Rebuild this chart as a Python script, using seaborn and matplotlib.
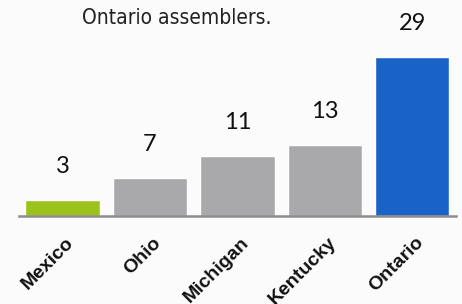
#Bar chart: assemblers by location

#import libraries
import numpy as np
import pandas as pd
import matplotlib
matplotlib.use('Agg')
import matplotlib.pyplot as plt
import matplotlib.transforms as mtrans
from matplotlib import font_manager
import seaborn as sns

#data
locations = ['Mexico', 'Ohio', 'Michigan', 'Kentucky', 'Ontario']
counts = [3, 7, 11, 13, 29]
bar_colors = ['#9cc31c', '#a9a9ab', '#a9a9ab', '#a9a9ab', '#1a63c6']
caption = 'Ontario assemblers.'

df = pd.DataFrame({'location': locations, 'count': counts})

sns.set_style('white')
plt.rcParams['font.family'] = ['Liberation Sans', 'DejaVu Sans']

#pick a narrow font for the caption if there is one
names = {f.name for f in font_manager.fontManager.ttflist}
if 'Liberation Sans Narrow' in names:
    cap_font = dict(family=['Liberation Sans Narrow', 'DejaVu Sans'])
else:
    cap_font = dict(family=['DejaVu Sans'], fontstretch='condensed')

fig = plt.figure(figsize=(4.62, 3.04), dpi=100)
fig.patch.set_facecolor('#fbfbfb')
ax = fig.add_axes([0.041, 0.289, 0.946, 0.711])
ax.set_facecolor('#fbfbfb')

sns.barplot(data=df, x='location', y='count', hue='location', palette=bar_colors,
            width=0.85, legend=False, ax=ax, saturation=1)

#value labels above each bar
for i, v in enumerate(counts):
    ax.annotate(str(v), (i, v), xytext=(0, 24), textcoords='offset points',
                ha='center', va='center', fontsize=17, color='#111111',
                family=['Lato', 'DejaVu Sans'])

ax.set_xlim(-0.5, 4.5)
ax.set_ylim(0, 39.3)
ax.set_xlabel('')
ax.set_ylabel('')
ax.set_yticks([])

#axis line with ticks between categories
for s in ['top', 'right', 'left']:
    ax.spines[s].set_visible(False)
ax.spines['bottom'].set_color('#8c8c8c')
ax.spines['bottom'].set_linewidth(1.8)
ax.set_xticks(np.arange(5))
ax.set_xticklabels(locations, rotation=45, ha='right', rotation_mode='anchor',
                   fontsize=14, fontweight='bold', color='#111111')
ax.tick_params(axis='x', which='major', length=0, pad=13)
ax.set_xticks(np.arange(-0.5, 5, 1), minor=True)
ax.tick_params(axis='x', which='minor', length=5, width=1.5, color='#8c8c8c')
shift = mtrans.ScaledTranslation(2 / 72, 0, fig.dpi_scale_trans)
for lbl in ax.get_xticklabels():
    lbl.set_transform(lbl.get_transform() + shift)

#caption at the top
fig.text(0.178, 0.94, caption, fontsize=15, color='#222222', ha='left', va='center',
         **cap_font)

plt.savefig('out.png', dpi=100, facecolor=fig.get_facecolor())
